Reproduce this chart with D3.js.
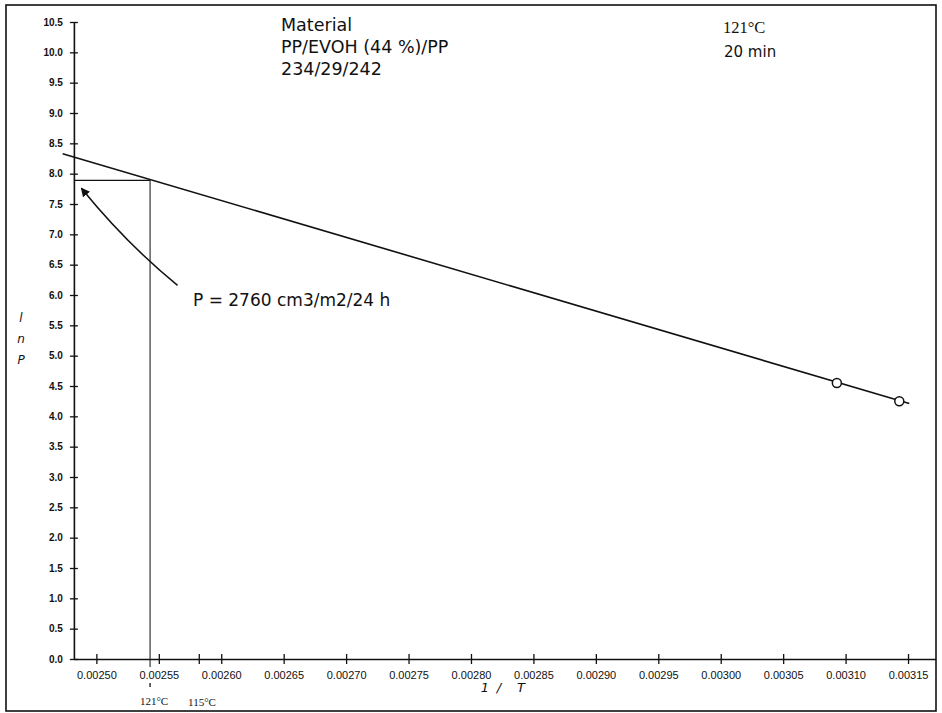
<!DOCTYPE html>
<html>
<head>
<meta charset="utf-8">
<script src="https://cdn.jsdelivr.net/npm/d3@7"></script>
<style>
  body { margin: 0; background: #fff; }
  svg text { fill: #111; }
</style>
</head>
<body>
<div id="chart"></div>
<script>
// Chart values
var xTicks = [0.00250, 0.00255, 0.00260, 0.00265, 0.00270, 0.00275, 0.00280,
  0.00285, 0.00290, 0.00295, 0.00300, 0.00305, 0.00310, 0.00315];
var yTicks = [0.0, 0.5, 1.0, 1.5, 2.0, 2.5, 3.0, 3.5, 4.0, 4.5, 5.0,
  5.5, 6.0, 6.5, 7.0, 7.5, 8.0, 8.5, 9.0, 9.5, 10.0, 10.5];

// measured points (1/T, ln P)
var pointX = [0.003093, 0.003143];
var pointLnP = [4.55, 4.25];

// fitted straight line, ends as drawn
var fitX = [0.002473, 0.003151];
var fitLnP = [8.33, 4.21];

// read-off at 121 C
var refX = [0.002543];
var refLnP = [7.89];
var refTick115 = [0.002582];

var titleLines = ["Material", "PP/EVOH (44 %)/PP", "234/29/242"];
var condLines = ["121\u00b0C", "20 min"];
var noteText = "P = 2760 cm3/m2/24 h";

var svgWidth = 942;
var svgHeight = 713;

var svg = d3.select("#chart")
  .append("svg")
  .attr("width", svgWidth)
  .attr("height", svgHeight)
  .style("font-family", "'DejaVu Sans', sans-serif");

// Scales
var xScale = d3.scaleLinear()
  .domain([0.002482, 0.003172])
  .range([73.9, 935.5]);
var yScale = d3.scaleLinear()
  .domain([0, 10.5])
  .range([659, 22]);

// outer frame
svg.append("rect")
  .attr("x", 6)
  .attr("y", 5)
  .attr("width", 930)
  .attr("height", 706)
  .attr("fill", "none")
  .attr("stroke", "#111")
  .attr("stroke-width", 1.6);

// X axis
var xAxis = svg.append("g")
  .attr("transform", `translate(0, ${yScale(0)})`)
  .call(d3.axisBottom(xScale)
    .tickValues(xTicks.concat(refTick115))
    .tickSizeOuter(0)
    .tickFormat(d => refTick115.indexOf(d) >= 0 ? "" : d3.format(".5f")(d)));
xAxis.select(".domain").attr("stroke", "#111").attr("stroke-width", 1.6);
xAxis.selectAll(".tick line").attr("y1", -5).attr("y2", 5).attr("stroke", "#111").attr("stroke-width", 1.3);
xAxis.selectAll(".tick text")
  .attr("y", 20)
  .attr("dy", 0)
  .style("font-size", "11px");

// Y axis
var yAxis = svg.append("g")
  .attr("transform", `translate(${xScale(0.002482)}, 0)`)
  .call(d3.axisLeft(yScale)
    .tickValues(yTicks)
    .tickSizeOuter(0)
    .tickFormat(d3.format(".1f")));
yAxis.select(".domain").attr("stroke", "#111").attr("stroke-width", 1.6);
yAxis.selectAll(".tick line").attr("x1", -4).attr("x2", 4).attr("stroke", "#111").attr("stroke-width", 1.3);
yAxis.selectAll(".tick text")
  .attr("x", -11)
  .style("font-size", "10px")
  .style("font-weight", "bold");

// fitted line
var line = d3.line()
  .x(d => xScale(d[0]))
  .y(d => yScale(d[1]));
svg.append("path")
  .datum(fitX.map((x, i) => [x, fitLnP[i]]))
  .attr("d", line)
  .attr("fill", "none")
  .attr("stroke", "#111")
  .attr("stroke-width", 1.6);

// read-off lines at 121 C
svg.append("path")
  .datum([[0.002482, refLnP[0]], [refX[0], refLnP[0]]])
  .attr("d", line)
  .attr("fill", "none")
  .attr("stroke", "#111")
  .attr("stroke-width", 1.3);
svg.append("line")
  .attr("x1", xScale(refX[0]))
  .attr("x2", xScale(refX[0]))
  .attr("y1", yScale(refLnP[0]))
  .attr("y2", yScale(0) + 8)
  .attr("stroke", "#222")
  .attr("stroke-width", 1.1);
svg.append("line")
  .attr("x1", xScale(refX[0]))
  .attr("x2", xScale(refX[0]))
  .attr("y1", yScale(0) + 24)
  .attr("y2", yScale(0) + 28)
  .attr("stroke", "#222")
  .attr("stroke-width", 1.4);

// measured points
svg.selectAll(".pt")
  .data(pointX)
  .enter()
  .append("circle")
  .attr("class", "pt")
  .attr("cx", d => xScale(d))
  .attr("cy", (d, i) => yScale(pointLnP[i]))
  .attr("r", 4.5)
  .attr("fill", "#fff")
  .attr("stroke", "#111")
  .attr("stroke-width", 1.5);

// arrow to the read-off value
svg.append("defs").append("marker")
  .attr("id", "head")
  .attr("viewBox", "0 0 10 10")
  .attr("refX", 9)
  .attr("refY", 5)
  .attr("markerWidth", 9)
  .attr("markerHeight", 9)
  .attr("markerUnits", "userSpaceOnUse")
  .attr("orient", "auto")
  .append("path")
  .attr("d", "M0,0 L10,5 L0,10 z")
  .attr("fill", "#111");

var tail = [xScale(0.002565), yScale(6.16)];
var head = [xScale(0.002488), yScale(7.76)];
var ctrl = [(tail[0] + head[0]) / 2 - 3, (tail[1] + head[1]) / 2 + 7];
svg.append("path")
  .attr("d", `M${tail[0]},${tail[1]} Q${ctrl[0]},${ctrl[1]} ${head[0]},${head[1]}`)
  .attr("fill", "none")
  .attr("stroke", "#111")
  .attr("stroke-width", 1.5)
  .attr("marker-end", "url(#head)");

svg.append("text")
  .attr("x", 193)
  .attr("y", 306)
  .style("font-size", "17px")
  .text(noteText);

// title block
svg.selectAll(".title")
  .data(titleLines)
  .enter()
  .append("text")
  .attr("class", "title")
  .attr("x", 281)
  .attr("y", (d, i) => 31 + i * 22)
  .style("font-size", "17.5px")
  .text(d => d);

// conditions
svg.append("text")
  .attr("x", 723)
  .attr("y", 33)
  .style("font-family", "'Liberation Serif', serif")
  .style("font-size", "16.5px")
  .text(condLines[0]);
svg.append("text")
  .attr("x", 724)
  .attr("y", 57)
  .style("font-size", "15px")
  .text(condLines[1]);

// axis titles
svg.selectAll(".ylab")
  .data(["l", "n", "P"])
  .enter()
  .append("text")
  .attr("class", "ylab")
  .attr("x", 21)
  .attr("y", (d, i) => 322 + i * 21)
  .attr("text-anchor", "middle")
  .style("font-size", "12px")
  .style("font-style", "italic")
  .text(d => d);

svg.selectAll(".xlab")
  .data(["1", "/", "T"])
  .enter()
  .append("text")
  .attr("class", "xlab")
  .attr("x", (d, i) => [485, 499, 521][i])
  .attr("y", 692)
  .attr("text-anchor", "middle")
  .style("font-size", "13px")
  .style("font-style", "italic")
  .text(d => d);

// temperature marks under the axis
svg.append("text")
  .attr("x", xScale(refX[0]) + 4)
  .attr("y", 705)
  .attr("text-anchor", "middle")
  .style("font-family", "'Liberation Serif', serif")
  .style("font-size", "11px")
  .text("121\u00b0C");
svg.append("text")
  .attr("x", 202)
  .attr("y", 706)
  .attr("text-anchor", "middle")
  .style("font-family", "'Liberation Serif', serif")
  .style("font-size", "11px")
  .text("115\u00b0C");
</script>
</body>
</html>
